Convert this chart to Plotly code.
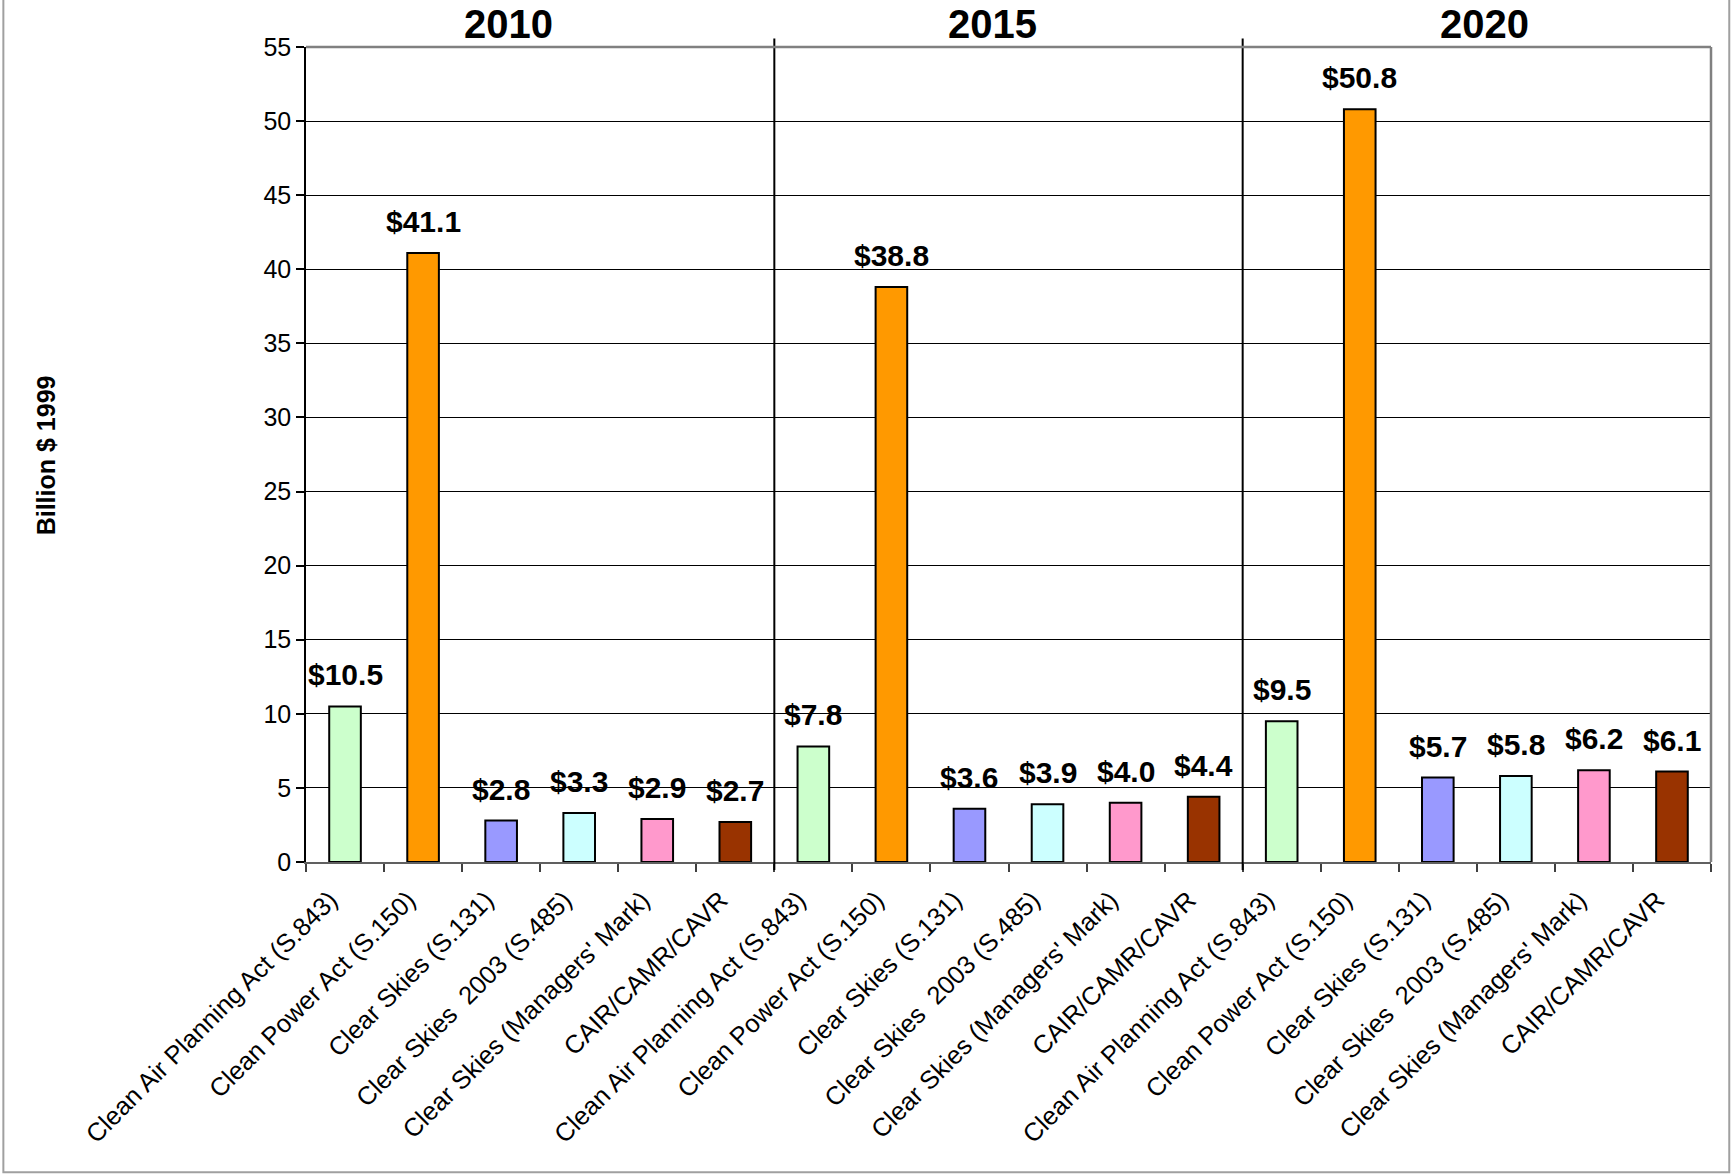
import plotly.graph_objects as go

# Annual cost by proposal, grouped by year (billion 1999 dollars)
years = ["2010", "2015", "2020"]
proposals = [
    "Clean Air Planning Act (S.843)",
    "Clean Power Act (S.150)",
    "Clear Skies (S.131)",
    "Clear Skies  2003 (S.485)",
    "Clear Skies (Managers' Mark)",
    "CAIR/CAMR/CAVR",
]
costs_2010 = [10.5, 41.1, 2.8, 3.3, 2.9, 2.7]
costs_2015 = [7.8, 38.8, 3.6, 3.9, 4.0, 4.4]
costs_2020 = [9.5, 50.8, 5.7, 5.8, 6.2, 6.1]
proposal_colors = ["#CCFFCC", "#FF9900", "#9999FF", "#CCFFFF", "#FF99CC", "#993300"]
y_ticks = list(range(0, 56, 5))

FONT = "Liberation Sans, Arial, sans-serif"

values = costs_2010 + costs_2015 + costs_2020
labels = proposals * len(years)
colors = proposal_colors * len(years)
xpos = list(range(len(values)))
n_per = len(proposals)

fig = go.Figure()
fig.add_trace(go.Bar(
    x=xpos,
    y=values,
    width=0.405,
    marker=dict(color=colors, line=dict(color="black", width=2)),
    hoverinfo="skip",
    showlegend=False,
))

# value labels above bars
for x, v in zip(xpos, values):
    fig.add_annotation(
        x=x, y=v, xref="x", yref="y",
        text=f"${v:.1f}", showarrow=False,
        yanchor="bottom", yshift=13,
        font=dict(family=FONT, size=30, color="black", weight="bold"),
    )

# year headings over each group
title_x = [2.1, 8.3, 14.6]
for yr, tx in zip(years, title_x):
    fig.add_annotation(
        x=tx, y=1.0284, xref="x", yref="paper",
        text=yr, showarrow=False, xanchor="center", yanchor="middle",
        font=dict(family=FONT, size=40, color="black", weight="bold"),
    )

# y-axis title
fig.add_annotation(
    x=-0.1848, y=0.4994, xref="paper", yref="paper",
    text="Billion $ 1999", textangle=-90, showarrow=False,
    xanchor="center", yanchor="middle",
    font=dict(family=FONT, size=25, color="black", weight="bold"),
)

shapes = []
# group separators
for k in range(1, len(years)):
    sx = k * n_per - 0.5
    shapes.append(dict(type="line", xref="x", yref="paper",
                       x0=sx, x1=sx, y0=-0.0098, y1=1.0103,
                       line=dict(color="black", width=2)))
# plot area border (top and right)
shapes.append(dict(type="line", xref="paper", yref="paper",
                   x0=0, x1=1, y0=1, y1=1,
                   line=dict(color="#808080", width=2.5)))
shapes.append(dict(type="line", xref="paper", yref="paper",
                   x0=1, x1=1, y0=0, y1=1,
                   line=dict(color="#808080", width=2.5)))
# outer chart frame
shapes.append(dict(type="rect", xref="paper", yref="paper",
                   x0=-0.2154, x1=1.0130, y0=-0.3806, y1=1.2,
                   line=dict(color="#A0A0A0", width=2)))

fig.update_layout(
    width=1732, height=1176,
    margin=dict(l=306, r=21, t=47, b=314),
    paper_bgcolor="white", plot_bgcolor="white",
    font=dict(family=FONT, color="black"),
    bargap=0.6,
    shapes=shapes,
    xaxis=dict(
        range=[-0.5, len(values) - 0.5],
        tickmode="array", tickvals=xpos, ticktext=labels,
        tickangle=-45,
        tickfont=dict(family=FONT, size=25.5, color="black"),
        ticks="outside", ticklen=8, tickcolor="rgba(0,0,0,0)",
        ticklabelshift=-15, ticklabelstandoff=3,
        showgrid=False, zeroline=False,
        showline=True, linecolor="#606060", linewidth=2,
        minor=dict(tickmode="array",
                   tickvals=[k - 0.5 for k in range(len(values) + 1)],
                   ticks="outside", ticklen=8, tickcolor="#404040",
                   tickwidth=1.5, showgrid=False),
        fixedrange=True,
    ),
    yaxis=dict(
        range=[0, 55],
        tickmode="array", tickvals=y_ticks,
        tickfont=dict(family=FONT, size=25, color="black"),
        ticks="outside", ticklen=8, tickcolor="black", tickwidth=1.5,
        showgrid=True, gridcolor="black", gridwidth=1,
        zeroline=False,
        showline=True, linecolor="black", linewidth=1.5,
        fixedrange=True,
    ),
)

fig.write_html("out.html")
